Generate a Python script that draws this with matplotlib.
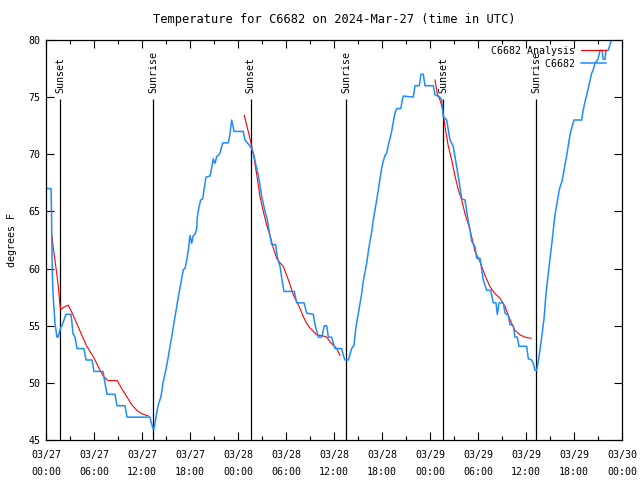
import numpy as np
import matplotlib
matplotlib.use("Agg")
import matplotlib.pyplot as plt
from matplotlib.ticker import MultipleLocator

# hours since 2024-03-27 00:00 UTC
obs_h = [0.125, 0.625, 0.69, 0.75, 0.84, 0.91, 1.0, 1.125, 1.375, 1.5, 1.875, 2.0, 2.25, 2.5,
         3.125, 3.25, 3.375, 3.625, 3.875, 4.75, 5.0, 5.75, 6.0, 7.125, 7.375, 7.625, 8.625,
         8.875, 9.875, 10.125, 13.0, 13.125, 13.375, 13.5, 13.75, 14.0, 14.375, 14.625,
         15.0, 15.29, 15.5, 15.71, 15.91, 16.125, 16.34, 16.54, 16.75, 16.96, 17.16, 17.375,
         17.59, 17.79, 18.0, 18.21, 18.41, 18.625, 18.84, 18.91, 19.125, 19.34, 19.59, 19.75,
         20.0, 20.5, 20.71, 20.91, 21.125, 21.34, 21.54, 21.75, 22.09, 22.79, 23.0, 23.21,
         23.34, 23.5, 24.66, 24.875, 25.16, 25.41, 25.71, 26.0, 26.25, 26.54, 26.75, 26.96,
         27.16, 27.375, 27.66, 27.91, 28.21, 28.71, 28.91, 29.25, 29.46, 29.75, 31.04, 31.34,
         32.25, 32.59, 33.41, 33.625, 34.04, 34.46, 34.79, 35.09, 35.29, 35.71, 35.91, 36.125,
         36.96, 37.16, 37.375, 37.8, 38.21, 38.5, 38.75, 39.04, 39.25, 39.46, 39.66, 39.875,
         40.09, 40.29, 40.5, 40.71, 40.91, 41.125, 41.34, 41.54, 41.75, 41.96, 42.16, 42.375,
         42.59, 42.79, 43.0, 43.21, 43.41, 43.625, 43.84, 44.34, 44.54, 44.66, 45.91, 46.125,
         46.66, 46.875, 47.16, 47.375, 48.41, 48.625, 49.25, 49.46, 49.66, 50.09, 50.29, 50.5,
         50.91, 51.125, 51.41, 51.66, 51.96, 52.375, 52.59, 52.79, 53.0, 53.21, 53.625, 53.84,
         54.25, 54.46, 54.66, 55.09, 55.59, 55.91, 56.25, 56.41, 56.625, 57.16, 57.375, 57.79,
         58.0, 58.41, 58.625, 58.91, 59.125, 60.09, 60.29, 60.71, 60.91, 61.125, 61.34, 61.54,
         61.75, 61.96, 62.25, 62.5, 62.79, 63.21, 63.625, 64.16, 64.54, 64.875, 65.09, 65.29,
         65.5, 65.71, 66.0, 66.96, 67.16, 67.375, 67.59, 67.79, 68.0, 68.21, 68.41, 68.625,
         69.0, 69.25, 69.5, 69.66, 69.875, 70.0, 70.29, 70.5, 71.0]
obs_t = [67, 67, 65, 61, 58.5, 57.4, 56.5, 55.2, 54, 54, 54.9, 55, 55.5, 56,
         56, 55.2, 54.3, 54, 53, 53, 52, 52, 51, 51, 50, 49, 49,
         48, 48, 47, 47, 46.6, 46, 46, 47, 48, 48.8, 50,
         51.2, 52.3, 53.2, 54, 54.9, 55.8, 56.7, 57.5, 58.3, 59.1, 59.9, 60,
         60.75, 61.6, 62.9, 62.2, 62.9, 63, 63.5, 64.5, 65.4, 66, 66.1, 66.9,
         68, 68.1, 68.8, 69.6, 69.2, 69.8, 69.9, 70.1, 71, 71, 71.8, 73,
         72.6, 72, 72, 71.25, 71, 70.8, 70.5, 69.9, 69, 68.2, 67.3, 66.3,
         65.7, 65, 64.3, 63.2, 62.1, 62.1, 61, 60.2, 59.2, 58, 58, 57,
         57, 56.1, 56, 55.1, 54, 54, 55, 55, 54, 54, 53.5, 53,
         53, 52.4, 52, 52, 53, 53.3, 54.9, 56.1, 57, 57.8, 58.9, 59.7,
         60.5, 61.5, 62.4, 63.2, 64.25, 65.1, 66, 66.9, 67.9, 68.8, 69.4, 69.9,
         70.1, 70.8, 71.4, 72, 72.85, 73.6, 74, 74, 74.75, 75.1, 75, 76,
         76, 77, 77, 76, 76, 75.2, 75, 74.75, 73.3, 73, 72.1, 71.25,
         70.7, 69.8, 68.6, 67.5, 66.1, 66, 65, 64.1, 63.4, 62.4, 61.9, 60.9,
         60.9, 59.9, 59, 58.1, 58.1, 57, 57, 56, 57, 57, 56.1, 55.9,
         55.1, 55, 54, 54, 53.2, 53.2, 52.1, 52, 51.7, 51.1, 51.1, 51.9,
         52.9, 54, 55.6, 57.8, 59.6, 62.1, 64.7, 66.9, 67.75, 69.1, 69.9, 70.8,
         71.7, 72.3, 73, 73, 73.9, 74.6, 75.2, 75.8, 76.4, 77.1, 77.4, 78,
         78.3, 79.1, 79.1, 78.3, 78.3, 79.1, 79.1, 79.6, 80.6]

# analysis curves (one per night)
ana1_h = [0.75, 0.91, 1.125, 1.34, 1.54, 1.625, 1.75, 1.84, 2.16, 2.79, 3.21, 3.84, 4.46,
          5.09, 5.91, 6.54, 7.16, 7.71, 8.91, 9.46, 10.09, 10.71, 11.34, 11.96, 12.79]
ana1_t = [62.9, 61.8, 60.7, 59.6, 58.4, 57.7, 56.8, 56.4, 56.6, 56.8, 56.2, 55.2, 54.2,
          53.2, 52.3, 51.4, 50.6, 50.2, 50.2, 49.5, 48.8, 48.1, 47.6, 47.3, 47.1]
ana2_h = [24.79, 25.59, 26.0, 26.34, 26.75, 27.16, 27.59, 28.0, 28.41, 28.84, 29.25, 29.66,
          30.09, 30.5, 30.91, 31.34, 31.75, 32.16, 32.59, 33.0, 33.84, 34.66, 35.09, 35.5,
          35.91, 36.34, 36.75]
ana2_t = [73.4, 71.1, 69.7, 68.2, 66.3, 65, 63.8, 62.9, 61.8, 60.9, 60.5, 60.2,
          59.4, 58.6, 57.7, 57.1, 56.5, 55.8, 55.2, 54.8, 54.2, 54.1, 54, 53.6,
          53.3, 53, 52.4]
ana3_h = [48.625, 48.91, 49.25, 49.59, 49.875, 50.29, 50.71, 51.125, 51.54, 51.96, 52.375,
          53.0, 53.625, 54.25, 54.875, 55.5, 56.125, 56.75, 57.375, 57.79, 58.21, 58.625,
          59.25, 59.875, 60.625]
ana3_t = [76.5, 75.3, 74.75, 73.9, 72.4, 70.7, 69.5, 68.1, 66.9, 66, 64.8,
          63.4, 61.5, 60.6, 59.4, 58.4, 57.8, 57.4, 56.7, 55.9, 55.2, 54.6,
          54.2, 54, 53.9]

sun_h = [1.75, 13.4, 25.6, 37.5, 49.65, 61.3]
sun_lbl = ["Sunset", "Sunrise", "Sunset", "Sunrise", "Sunset", "Sunrise"]

tick_h = [0, 6, 12, 18, 24, 30, 36, 42, 48, 54, 60, 66, 72]
tick_lbl = ["03/27\n00:00", "03/27\n06:00", "03/27\n12:00", "03/27\n18:00",
            "03/28\n00:00", "03/28\n06:00", "03/28\n12:00", "03/28\n18:00",
            "03/29\n00:00", "03/29\n06:00", "03/29\n12:00", "03/29\n18:00",
            "03/30\n00:00"]

plt.rcParams['font.family'] = 'DejaVu Sans Mono'
plt.rcParams['font.size'] = 7.2

fig = plt.figure(figsize=(6.4, 4.8), dpi=100)
ax = fig.add_axes([46/640, 40/480, 576/640, 400/480])

for h, lbl in zip(sun_h, sun_lbl):
    ax.vlines(h, 45, 74.8, color='black', lw=0.9)
    ax.text(h, 75.4, lbl, rotation=90, ha='center', va='bottom')

ax.plot(ana1_h, ana1_t, color='#ff0000', lw=0.8, label='C6682 Analysis')
ax.plot(ana2_h, ana2_t, color='#ff0000', lw=0.8)
ax.plot(ana3_h, ana3_t, color='#ff0000', lw=0.8)
ax.plot(obs_h, obs_t, color='#1e8cff', lw=1.1, label='         C6682')

ax.set_xlim(0, 72)
ax.set_ylim(45, 80)
ax.set_xticks(tick_h)
ax.set_xticklabels(tick_lbl, linespacing=1.85)
ax.xaxis.set_minor_locator(MultipleLocator(3))
ax.set_yticks(range(45, 81, 5))
ax.tick_params(which='both', direction='in', top=True, right=True, width=0.8)
ax.tick_params(which='major', length=6)
ax.tick_params(axis='x', which='major', pad=7)
ax.tick_params(axis='y', which='major', pad=4)
ax.tick_params(which='minor', length=3)
for s in ax.spines.values():
    s.set_linewidth(0.9)

ax.set_ylabel('degrees F', labelpad=8)
ax.set_title('Temperature for C6682 on 2024-Mar-27 (time in UTC)', pad=12)

ax.legend(loc='upper right', bbox_to_anchor=(1 - 10/576, 1), frameon=False,
          markerfirst=False, handlelength=2.5, borderaxespad=0.2,
          handletextpad=0.6, labelspacing=0.3)

fig.savefig('out.png', dpi=100)
